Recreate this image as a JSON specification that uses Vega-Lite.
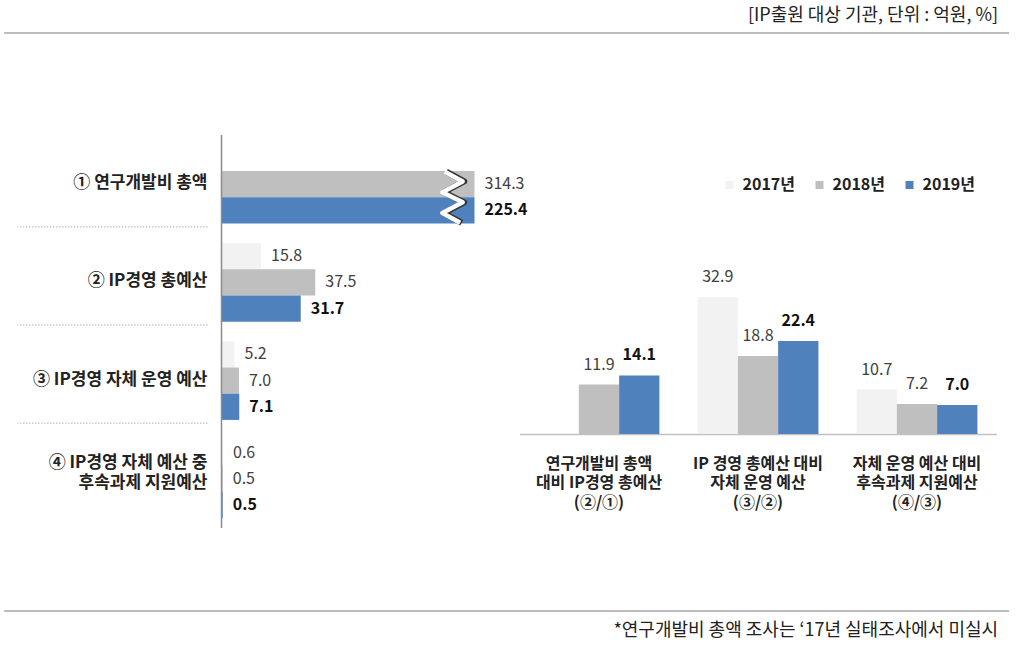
{
  "$schema": "https://vega.github.io/schema/vega-lite/v6.json",
  "padding": {"left": 3, "top": 0, "right": 0, "bottom": 0},
  "background": "white",
  "config": {
    "view": {"stroke": null},
    "font": "Noto Sans CJK KR"
  },
  "datasets": {
    "notes": [
      {"part": "header", "text": "[IP출원 대상 기관, 단위 : 억원, %]"},
      {"part": "footer", "text": "*연구개발비 총액 조사는 ‘17년 실태조사에서 미실시"}
    ],
    "cats": [
      {"cat": "① 연구개발비 총액", "sep": true, "multi": false},
      {"cat": "② IP경영 총예산", "sep": true, "multi": false},
      {"cat": "③ IP경영 자체 운영 예산", "sep": true, "multi": false},
      {"cat": "④ IP경영 자체 예산 중|후속과제 지원예산", "sep": false, "multi": true}
    ],
    "left": [
      {"cat": "① 연구개발비 총액", "year": "2018년", "value": 314.3},
      {"cat": "① 연구개발비 총액", "year": "2019년", "value": 225.4},
      {"cat": "② IP경영 총예산", "year": "2017년", "value": 15.8},
      {"cat": "② IP경영 총예산", "year": "2018년", "value": 37.5},
      {"cat": "② IP경영 총예산", "year": "2019년", "value": 31.7},
      {"cat": "③ IP경영 자체 운영 예산", "year": "2017년", "value": 5.2},
      {"cat": "③ IP경영 자체 운영 예산", "year": "2018년", "value": 7.0},
      {"cat": "③ IP경영 자체 운영 예산", "year": "2019년", "value": 7.1},
      {"cat": "④ IP경영 자체 예산 중|후속과제 지원예산", "year": "2017년", "value": 0.6},
      {"cat": "④ IP경영 자체 예산 중|후속과제 지원예산", "year": "2018년", "value": 0.5},
      {"cat": "④ IP경영 자체 예산 중|후속과제 지원예산", "year": "2019년", "value": 0.5}
    ],
    "right": [
      {"grp": "연구개발비 총액|대비 IP경영 총예산|(②/①)", "year": "2018년", "value": 11.9},
      {"grp": "연구개발비 총액|대비 IP경영 총예산|(②/①)", "year": "2019년", "value": 14.1},
      {"grp": "IP 경영 총예산 대비|자체 운영 예산|(③/②)", "year": "2017년", "value": 32.9},
      {"grp": "IP 경영 총예산 대비|자체 운영 예산|(③/②)", "year": "2018년", "value": 18.8},
      {"grp": "IP 경영 총예산 대비|자체 운영 예산|(③/②)", "year": "2019년", "value": 22.4},
      {"grp": "자체 운영 예산 대비|후속과제 지원예산|(④/③)", "year": "2017년", "value": 10.7},
      {"grp": "자체 운영 예산 대비|후속과제 지원예산|(④/③)", "year": "2018년", "value": 7.2},
      {"grp": "자체 운영 예산 대비|후속과제 지원예산|(④/③)", "year": "2019년", "value": 7.0}
    ],
    "blank": [{"t": ""}]
  },
  "spacing": 81,
  "center": true,
  "vconcat": [
    {
      "width": 1005,
      "height": 53,
      "data": {"name": "notes"},
      "transform": [{"filter": "datum.part == 'header'"}],
      "layer": [
        {
          "mark": {"type": "rule", "color": "#a6a6a6", "strokeWidth": 1.5},
          "encoding": {"y": {"datum": 0.377, "type": "quantitative", "scale": {"domain": [0, 1], "nice": false}, "axis": null}}
        },
        {
          "mark": {"type": "text", "align": "right", "baseline": "middle", "fontSize": 18, "color": "#222222", "dx": -11},
          "encoding": {
            "x": {"datum": 1, "type": "quantitative", "scale": {"domain": [0, 1]}, "axis": null},
            "y": {"datum": 0.689, "type": "quantitative", "scale": {"domain": [0, 1], "nice": false}, "axis": null},
            "text": {"field": "text"}
          }
        }
      ]
    },
    {
      "bounds": "flush",
      "spacing": 14,
      "resolve": {"scale": {"x": "independent", "y": "independent", "color": "independent"}, "legend": {"color": "independent"}},
      "hconcat": [
        {
          "width": 190,
          "height": 393,
          "data": {"name": "cats"},
          "layer": [
            {
              "transform": [{"filter": "datum.sep"}],
              "mark": {"type": "rule", "color": "#cccccc", "strokeWidth": 1.5, "strokeDash": [1.5, 1.5]},
              "encoding": {
                "y": {"field": "cat", "type": "nominal", "bandPosition": 1.042,
                  "scale": {"domain": ["① 연구개발비 총액", "② IP경영 총예산", "③ IP경영 자체 운영 예산", "④ IP경영 자체 예산 중|후속과제 지원예산"], "paddingInner": 0.2, "paddingOuter": 0.1},
                  "axis": null}
              }
            },
            {
              "transform": [{"filter": "!datum.multi"}],
              "mark": {"type": "text", "align": "right", "baseline": "middle", "dy": -1, "fontSize": 17, "fontWeight": "bold", "color": "#222222"},
              "encoding": {
                "y": {"field": "cat", "type": "nominal",
                  "scale": {"domain": ["① 연구개발비 총액", "② IP경영 총예산", "③ IP경영 자체 운영 예산", "④ IP경영 자체 예산 중|후속과제 지원예산"], "paddingInner": 0.2, "paddingOuter": 0.1},
                  "axis": null},
                "x": {"datum": 1, "type": "quantitative", "scale": {"domain": [0, 1]}, "axis": null},
                "text": {"field": "cat"}
              }
            },
            {
              "transform": [{"filter": "datum.multi"}],
              "mark": {"type": "text", "align": "right", "baseline": "middle", "dy": -16, "fontSize": 17, "fontWeight": "bold", "color": "#222222", "lineBreak": "|", "lineHeight": 20},
              "encoding": {
                "y": {"field": "cat", "type": "nominal", "axis": null},
                "x": {"datum": 1, "type": "quantitative", "axis": null},
                "text": {"field": "cat"}
              }
            }
          ]
        },
        {
          "width": 253,
          "height": 393,
          "data": {"name": "left"},
          "layer": [
            {
              "mark": {"type": "bar"},
              "encoding": {
                "y": {"field": "cat", "type": "nominal",
                  "scale": {"domain": ["① 연구개발비 총액", "② IP경영 총예산", "③ IP경영 자체 운영 예산", "④ IP경영 자체 예산 중|후속과제 지원예산"], "paddingInner": 0.2, "paddingOuter": 0.1},
                  "axis": null},
                "yOffset": {"field": "year", "type": "nominal", "scale": {"domain": ["2017년", "2018년", "2019년"], "paddingInner": 0, "paddingOuter": 0}},
                "x": {"field": "value", "type": "quantitative", "scale": {"domain": [0, 101.2], "clamp": true, "nice": false, "zero": true}, "axis": null},
                "color": {"field": "year", "type": "nominal", "scale": {"domain": ["2017년", "2018년", "2019년"], "range": ["#f2f2f2", "#bfbfbf", "#4f81bd"]}, "legend": null}
              }
            },
            {
              "transform": [{"filter": "datum.year != '2019년'"}],
              "mark": {"type": "text", "align": "left", "baseline": "middle", "dx": 10, "fontSize": 16, "color": "#404040"},
              "encoding": {
                "y": {"field": "cat", "type": "nominal", "axis": null},
                "yOffset": {"field": "year", "type": "nominal"},
                "x": {"field": "value", "type": "quantitative"},
                "text": {"field": "value", "type": "quantitative", "format": ".1f"}
              }
            },
            {
              "transform": [{"filter": "datum.year == '2019년'"}],
              "mark": {"type": "text", "align": "left", "baseline": "middle", "dx": 10, "fontSize": 16, "fontWeight": "bold", "color": "#111111"},
              "encoding": {
                "y": {"field": "cat", "type": "nominal", "axis": null},
                "yOffset": {"field": "year", "type": "nominal"},
                "x": {"field": "value", "type": "quantitative"},
                "text": {"field": "value", "type": "quantitative", "format": ".1f"}
              }
            },
            {
              "transform": [{"filter": "datum.year == '2019년' && datum.value > 100"}],
              "mark": {"type": "point", "shape": "M-0.3,-1L0.4,-0.62L-0.4,-0.2L0.4,0.2L-0.4,0.62L0.3,1", "filled": false, "stroke": "#333333", "strokeWidth": 6, "strokeJoin": "round", "size": 2600, "opacity": 1, "xOffset": 1.5},
              "encoding": {
                "y": {"field": "cat", "type": "nominal", "bandPosition": 0.667, "axis": null},
                "x": {"datum": 92.4, "type": "quantitative"}
              }
            },
            {
              "transform": [{"filter": "datum.year == '2019년' && datum.value > 100"}],
              "mark": {"type": "point", "shape": "M-0.3,-1L0.4,-0.62L-0.4,-0.2L0.4,0.2L-0.4,0.62L0.3,1", "filled": false, "stroke": "#ffffff", "strokeWidth": 4.5, "strokeJoin": "round", "size": 2600, "opacity": 1, "xOffset": 0},
              "encoding": {
                "y": {"field": "cat", "type": "nominal", "bandPosition": 0.667, "axis": null},
                "x": {"datum": 92.4, "type": "quantitative"}
              }
            },
            {
              "transform": [{"filter": "datum.year == '2019년' && datum.value > 100"}],
              "mark": {"type": "rule", "color": "#8c8c8c", "strokeWidth": 1.5},
              "encoding": {"x": {"datum": 0, "type": "quantitative"}}
            }
          ]
        },
        {
          "width": 17,
          "height": 10,
          "data": {"name": "blank"},
          "mark": {"type": "text"},
          "encoding": {"text": {"field": "t"}}
        },
        {
          "width": 477,
          "height": 299,
          "data": {"name": "right"},
          "layer": [
            {
              "mark": {"type": "bar"},
              "encoding": {
                "x": {"field": "grp", "type": "nominal",
                  "scale": {"domain": ["연구개발비 총액|대비 IP경영 총예산|(②/①)", "IP 경영 총예산 대비|자체 운영 예산|(③/②)", "자체 운영 예산 대비|후속과제 지원예산|(④/③)"], "paddingInner": 0.24, "paddingOuter": 0.12},
                  "axis": {"title": null, "labelExpr": "split(datum.label, '|')", "labelAngle": 0, "ticks": false, "tickSize": 0, "domainColor": "#c0c0c0", "domainWidth": 1.5, "labelFontSize": 16, "labelFontWeight": "bold", "labelColor": "#222222", "labelPadding": 21, "labelLineHeight": 19.5, "labelBaseline": "top", "labelLimit": 300}},
                "xOffset": {"field": "year", "type": "nominal", "scale": {"domain": ["2017년", "2018년", "2019년"], "paddingInner": 0, "paddingOuter": 0}},
                "y": {"field": "value", "type": "quantitative", "scale": {"domain": [0, 72], "nice": false}, "axis": null},
                "color": {"field": "year", "type": "nominal",
                  "scale": {"domain": ["2017년", "2018년", "2019년"], "range": ["#f2f2f2", "#bfbfbf", "#4f81bd"]},
                  "legend": {"orient": "none", "legendX": 202, "legendY": 42, "direction": "horizontal", "title": null, "symbolType": "square", "symbolSize": 64, "symbolStrokeWidth": 0, "labelFontSize": 16, "labelFontWeight": "bold", "labelColor": "#222222", "labelOffset": 5, "columnPadding": 16, "padding": 0}}
              }
            },
            {
              "transform": [{"filter": "datum.year != '2019년'"}],
              "mark": {"type": "text", "align": "center", "baseline": "middle", "dy": -20, "fontSize": 16, "color": "#404040"},
              "encoding": {
                "x": {"field": "grp", "type": "nominal"},
                "xOffset": {"field": "year", "type": "nominal"},
                "y": {"field": "value", "type": "quantitative"},
                "text": {"field": "value", "type": "quantitative", "format": ".1f"}
              }
            },
            {
              "transform": [{"filter": "datum.year == '2019년'"}],
              "mark": {"type": "text", "align": "center", "baseline": "middle", "dy": -20, "fontSize": 16, "fontWeight": "bold", "color": "#111111"},
              "encoding": {
                "x": {"field": "grp", "type": "nominal"},
                "xOffset": {"field": "year", "type": "nominal"},
                "y": {"field": "value", "type": "quantitative"},
                "text": {"field": "value", "type": "quantitative", "format": ".1f"}
              }
            }
          ]
        }
      ]
    },
    {
      "width": 1005,
      "height": 39,
      "data": {"name": "notes"},
      "transform": [{"filter": "datum.part == 'footer'"}],
      "layer": [
        {
          "mark": {"type": "rule", "color": "#a6a6a6", "strokeWidth": 1.5},
          "encoding": {"y": {"datum": 1, "type": "quantitative", "scale": {"domain": [0, 1]}, "axis": null}}
        },
        {
          "mark": {"type": "text", "align": "right", "baseline": "middle", "fontSize": 18, "color": "#222222", "dx": -11},
          "encoding": {
            "x": {"datum": 1, "type": "quantitative", "scale": {"domain": [0, 1]}, "axis": null},
            "y": {"datum": 0.5, "type": "quantitative", "scale": {"domain": [0, 1]}, "axis": null},
            "text": {"field": "text"}
          }
        }
      ]
    }
  ]
}
